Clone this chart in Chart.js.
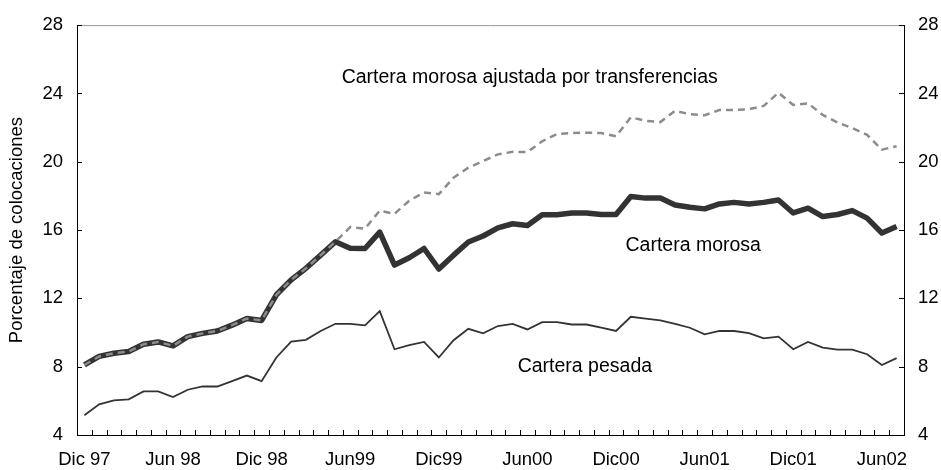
<!DOCTYPE html>
<html>
<head>
<meta charset="utf-8">
<script src="https://cdn.jsdelivr.net/npm/chart.js@4.4.0/dist/chart.umd.min.js"></script>
<style>
  body { margin: 0; background: #fff; }
  #wrap { width: 941px; height: 470px; position: relative; }
</style>
</head>
<body>
<div id="wrap"><canvas id="chart"></canvas></div>
<script>
// meses, Dic 97 .. Jul 02
const months = [
  'Dic 97',
  'Ene 98','Feb 98','Mar 98','Abr 98','May 98','Jun 98','Jul 98','Ago 98','Sep 98','Oct 98','Nov 98','Dic 98',
  'Ene 99','Feb 99','Mar 99','Abr 99','May 99','Jun 99','Jul 99','Ago 99','Sep 99','Oct 99','Nov 99','Dic 99',
  'Ene 00','Feb 00','Mar 00','Abr 00','May 00','Jun 00','Jul 00','Ago 00','Sep 00','Oct 00','Nov 00','Dic 00',
  'Ene 01','Feb 01','Mar 01','Abr 01','May 01','Jun 01','Jul 01','Ago 01','Sep 01','Oct 01','Nov 01','Dic 01',
  'Ene 02','Feb 02','Mar 02','Abr 02','May 02','Jun 02','Jul 02'
];
// etiquetas visibles, una cada 6 meses
const tickLabels = ['Dic 97','Jun 98','Dic 98','Jun99','Dic99','Jun00','Dic00','Jun01','Dic01','Jun02'];

const morosa = [
  8.10, 8.60, 8.79, 8.89, 9.31, 9.45, 9.22, 9.76, 9.95, 10.09, 10.43, 10.82, 10.71,
  12.21, 13.08, 13.76, 14.53, 15.32, 14.94, 14.92, 15.88, 13.95, 14.38, 14.92, 13.72,
  14.53, 15.30, 15.65, 16.13, 16.37, 16.27, 16.89, 16.89, 17.00, 17.00, 16.91, 16.91,
  17.97, 17.87, 17.87, 17.47, 17.33, 17.24, 17.53, 17.62, 17.53, 17.62, 17.76, 17.00,
  17.28, 16.79, 16.91, 17.14, 16.70, 15.83, 16.21
];
const ajustada = [
  8.10, 8.60, 8.79, 8.89, 9.31, 9.45, 9.22, 9.76, 9.95, 10.09, 10.43, 10.82, 10.71,
  12.21, 13.08, 13.76, 14.53, 15.32, 16.17, 16.08, 17.14, 16.95, 17.72, 18.20, 18.10,
  19.07, 19.65, 20.04, 20.43, 20.58, 20.56, 21.20, 21.62, 21.68, 21.70, 21.68, 21.49,
  22.60, 22.40, 22.32, 22.98, 22.78, 22.72, 23.03, 23.03, 23.07, 23.27, 24.04, 23.32,
  23.42, 22.74, 22.30, 21.97, 21.58, 20.71, 20.91
];
const pesada = [
  5.16, 5.80, 6.03, 6.09, 6.55, 6.55, 6.22, 6.65, 6.84, 6.84, 7.15, 7.48, 7.15,
  8.54, 9.47, 9.57, 10.09, 10.51, 10.51, 10.42, 11.25, 9.02, 9.26, 9.45, 8.54,
  9.55, 10.22, 9.95, 10.38, 10.51, 10.18, 10.61, 10.61, 10.47, 10.47, 10.28, 10.09,
  10.92, 10.82, 10.71, 10.51, 10.28, 9.89, 10.09, 10.09, 9.97, 9.66, 9.76, 9.02,
  9.45, 9.12, 9.00, 9.00, 8.73, 8.10, 8.50
];
const yTicks = [4, 8, 12, 16, 20, 24, 28];

const FONT = 'Liberation Sans, Arial, sans-serif';
const tickFont = { family: FONT, size: 18.5 };

// textos dentro del grafico (posicion en unidades de los ejes)
const notes = [
  { text: 'Cartera morosa ajustada por transferencias', at: 17.42, v: 24.93 },
  { text: 'Cartera morosa', at: 36.64, v: 15.07 },
  { text: 'Cartera pesada', at: 29.34, v: 8.0 }
];

const decor = {
  id: 'decor',
  afterDraw(chart) {
    const { ctx, chartArea: a, scales } = chart;
    const x = scales.x, yl = scales.y, yr = scales.y2;
    ctx.save();
    // borde superior gris
    ctx.strokeStyle = '#999';
    ctx.lineWidth = 1;
    ctx.beginPath();
    ctx.moveTo(a.left, a.top + 0.5);
    ctx.lineTo(a.right, a.top + 0.5);
    ctx.stroke();
    // marcas hacia adentro
    ctx.strokeStyle = '#000';
    ctx.beginPath();
    for (let i = 1; i < months.length; i++) {
      const px = Math.round((x.getPixelForValue(i - 1) + x.getPixelForValue(i)) / 2) + 0.5;
      ctx.moveTo(px, a.bottom);
      ctx.lineTo(px, a.bottom - 5);
    }
    yTicks.forEach(t => {
      const py = Math.round(yl.getPixelForValue(t)) + 0.5;
      ctx.moveTo(a.left, py); ctx.lineTo(a.left + 5, py);
      const pr = Math.round(yr.getPixelForValue(t)) + 0.5;
      ctx.moveTo(a.right, pr); ctx.lineTo(a.right - 5, pr);
    });
    ctx.stroke();
    // textos
    ctx.fillStyle = '#000';
    ctx.font = '19.5px ' + FONT;
    ctx.textAlign = 'left';
    ctx.textBaseline = 'middle';
    notes.forEach(n => {
      ctx.fillText(n.text, x.getPixelForValue(n.at), yl.getPixelForValue(n.v));
    });
    ctx.restore();
  }
};

new Chart(document.getElementById('chart'), {
  type: 'line',
  data: {
    labels: months,
    datasets: [
      {
        label: 'Cartera morosa ajustada por transferencias',
        data: ajustada,
        borderColor: '#8c8c8c',
        borderWidth: 2.5,
        borderDash: [7, 5],
        pointRadius: 0,
        tension: 0,
        yAxisID: 'y'
      },
      {
        label: 'Cartera morosa',
        data: morosa,
        borderColor: '#333333',
        borderWidth: 5.5,
        borderJoinStyle: 'round',
        pointRadius: 0,
        tension: 0,
        yAxisID: 'y'
      },
      {
        label: 'Cartera pesada',
        data: pesada,
        borderColor: '#333333',
        borderWidth: 1.8,
        pointRadius: 0,
        tension: 0,
        yAxisID: 'y'
      }
    ]
  },
  options: {
    responsive: true,
    maintainAspectRatio: false,
    animation: false,
    layout: { padding: { top: 21, left: 0, right: 0, bottom: 0 } },
    plugins: {
      legend: { display: false },
      tooltip: { enabled: false }
    },
    scales: {
      x: {
        type: 'category',
        offset: true,
        grid: { display: false, drawTicks: false },
        border: { display: true, color: '#000', width: 1 },
        ticks: {
          autoSkip: false,
          maxRotation: 0,
          padding: 14,
          color: '#000',
          font: tickFont,
          callback: (v, i) => (i % 6 === 0 ? tickLabels[i / 6] : '')
        },
        afterFit: s => { s.height = 35; }
      },
      y: {
        position: 'left',
        min: 4,
        max: 28,
        grid: { display: false, drawTicks: false },
        border: { display: true, color: '#000', width: 1 },
        ticks: { stepSize: 4, padding: 14, color: '#000', font: tickFont },
        title: {
          display: true,
          text: 'Porcentaje de colocaciones',
          color: '#000',
          font: tickFont,
          padding: { top: 6, bottom: 0 }
        },
        afterFit: s => { s.width = 77; }
      },
      y2: {
        position: 'right',
        min: 4,
        max: 28,
        grid: { display: false, drawTicks: false },
        border: { display: true, color: '#000', width: 1 },
        ticks: { stepSize: 4, padding: 14, color: '#000', font: tickFont },
        afterFit: s => { s.width = 37; }
      }
    }
  },
  plugins: [decor]
});
</script>
</body>
</html>
